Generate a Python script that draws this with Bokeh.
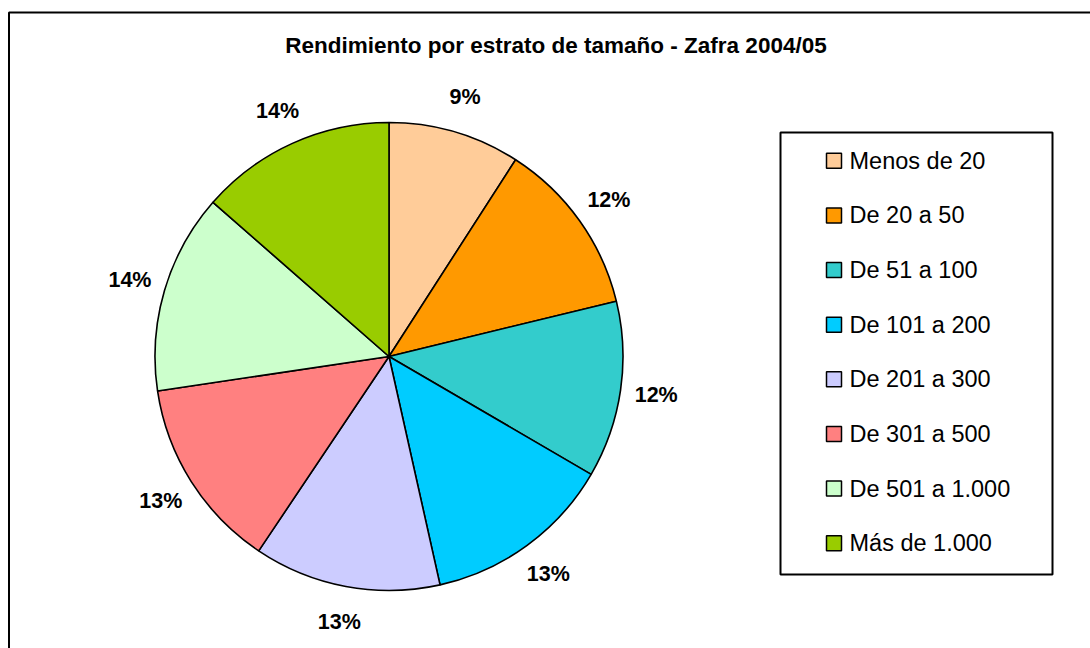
import math
from bokeh.plotting import figure
from bokeh.models import Range1d, ColumnDataSource
from bokeh.core.properties import value
from bokeh.embed import file_html
from bokeh.resources import INLINE

title_text = "Rendimiento por estrato de tamaño - Zafra 2004/05"
categories = ["Menos de 20", "De 20 a 50", "De 51 a 100", "De 101 a 200",
              "De 201 a 300", "De 301 a 500", "De 501 a 1.000", "Más de 1.000"]
shares = [9.1, 12.1, 12.2, 13.1, 12.9, 13.25, 13.8, 13.55]
colors = ["#FFCC99", "#FF9900", "#33CCCC", "#00CCFF",
          "#CCCCFF", "#FF8080", "#CCFFCC", "#99CC00"]

W, H = 1090, 648
FONT = "Liberation Sans"

p = figure(width=W, height=H, output_backend="svg", toolbar_location=None,
           x_range=Range1d(0, W), y_range=Range1d(0, H), min_border=0)
p.axis.visible = False
p.grid.visible = False
p.outline_line_color = None
p.background_fill_color = "white"
p.border_fill_color = "white"

# page coords -> figure coords
def fx(px):
    return px
def fy(py):
    return H - py

# outer chart frame (cropped on right/bottom)
p.line(x=[fx(8.5), fx(8.5), fx(1100)], y=[fy(660), fy(12), fy(12)],
       line_color="black", line_width=2)

# title
p.text(x=[fx(555.5)], y=[fy(45)], text=[title_text], text_align="center",
       text_baseline="middle", text_font=value(FONT), text_font_style="bold",
       text_font_size="22.5px", text_color="black")

# pie
cx, cy, r = fx(388.5), fy(356), 234
total = sum(shares)
starts, ends, mids = [], [], []
acc = 0.0
for v in shares:
    a0 = acc / total * 2 * math.pi
    acc += v
    a1 = acc / total * 2 * math.pi
    starts.append(math.pi / 2 - a0)
    ends.append(math.pi / 2 - a1)
    mids.append((a0 + a1) / 2)

src = ColumnDataSource(dict(start=starts, end=ends, color=colors, cat=categories))
p.wedge(x=cx, y=cy, radius=r, start_angle="start", end_angle="end",
        direction="clock", fill_color="color", line_color="black",
        line_width=1.6, source=src)

# percentage labels
lr = 270
lx = [cx + lr * math.sin(m) for m in mids]
ly = [cy + lr * math.cos(m) for m in mids]
ltxt = [f"{round(v / total * 100)}%" for v in shares]
p.text(x=lx, y=ly, text=ltxt, text_align="center", text_baseline="middle",
       text_font=value(FONT), text_font_style="bold",
       text_font_size="21.5px", text_color="black")

# legend box
p.quad(left=fx(780), right=fx(1052), top=fy(132), bottom=fy(574),
       fill_color=None, line_color="black", line_width=2)
ys = [fy(160.3 + i * 54.63) for i in range(len(categories))]
p.scatter(x=[fx(833.5)] * len(categories), y=ys, marker="square", size=15,
          fill_color=colors, line_color="black", line_width=1.5)
p.text(x=[fx(849)] * len(categories), y=ys, text=categories, text_align="left",
       text_baseline="middle", text_font=value(FONT),
       text_font_size="23.5px", text_color="black")

open("out.html", "w").write(file_html(p, INLINE))
